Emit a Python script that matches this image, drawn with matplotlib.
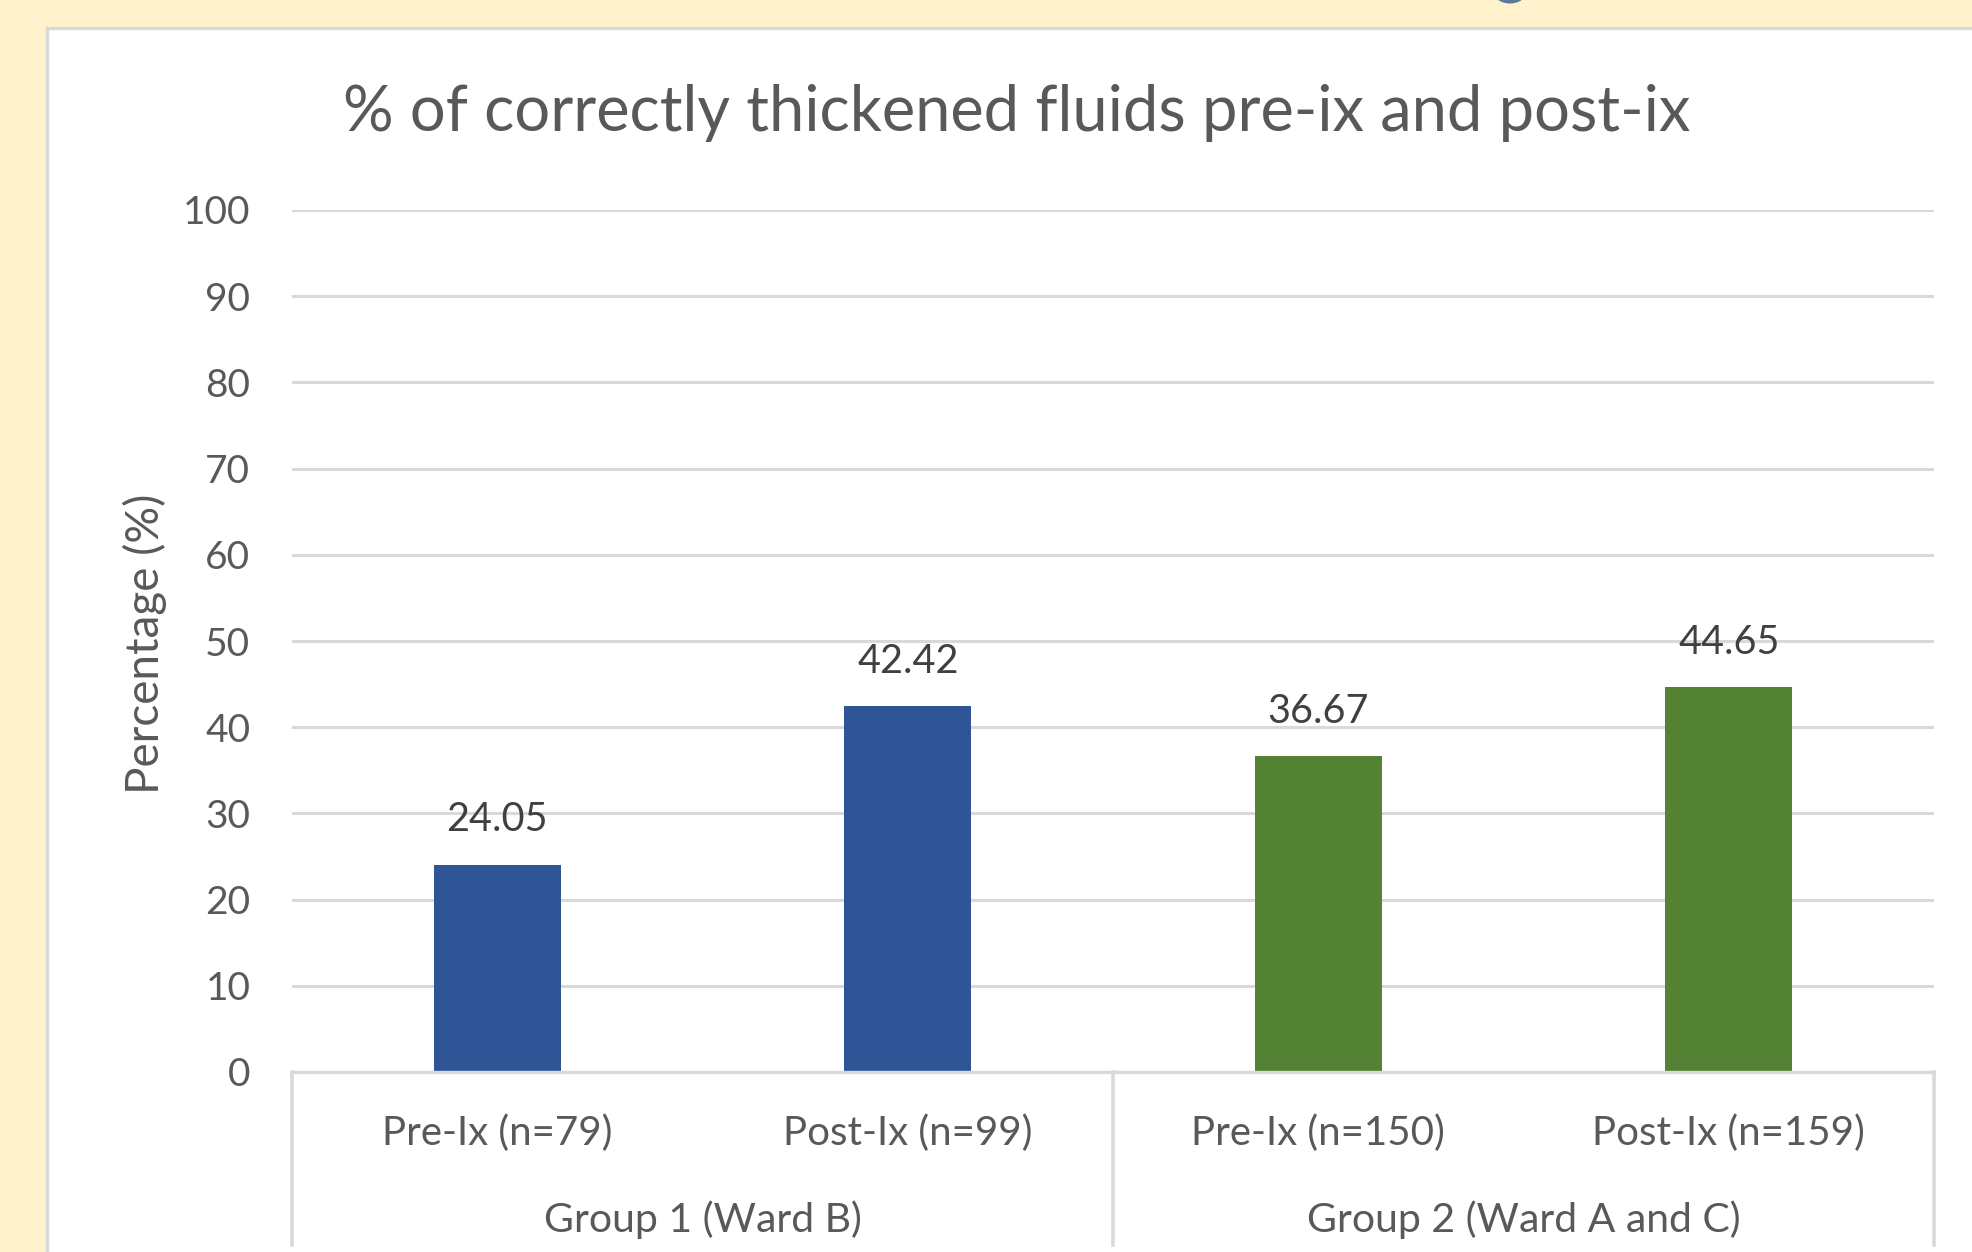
import matplotlib
matplotlib.use("Agg")
import matplotlib.pyplot as plt
from matplotlib.patches import Rectangle, Circle

# ---- data ----
categories = ["Pre-Ix (n=79)", "Post-Ix (n=99)", "Pre-Ix (n=150)", "Post-Ix (n=159)"]
values = [24.05, 42.42, 36.67, 44.65]
groups = ["Group 1 (Ward B)", "Group 2 (Ward A and C)"]
group_sizes = [2, 2]
bar_colors = ["#2F5597", "#2F5597", "#548235", "#548235"]
yticks = [0, 10, 20, 30, 40, 50, 60, 70, 80, 90, 100]
title = "% of correctly thickened fluids pre-ix and post-ix"
ylabel = "Percentage (%)"

plt.rcParams['font.family'] = ['Lato', 'DejaVu Sans']

W, H = 1972, 1252
DPI = 100
fig = plt.figure(figsize=(W / DPI, H / DPI), dpi=DPI)
fig.patch.set_facecolor("#FFF2CC")

def fx(px):
    return px / W

def fy(py):
    return 1 - py / H

# chart area (white panel with light gray border)
fig.patches.append(Rectangle((fx(47), fy(1400)), fx(2200), (1400 - 27.5) / H,
                             transform=fig.transFigure, facecolor="white",
                             edgecolor="#D9D9D9", linewidth=2.5, zorder=-2))
# decorative circle at top edge
fig.patches.append(Circle((fx(1510), fy(-6)), 15 / W, transform=fig.transFigure,
                          facecolor="#5B7A99", edgecolor="none", zorder=-2))

left, right, top, bottom = 292, 1934, 210, 1072
ax = fig.add_axes([fx(left), fy(bottom), fx(right - left), (bottom - top) / H])
ax.set_zorder(1)
ax.set_facecolor("none")

x = list(range(len(categories)))
ax.bar(x, values, width=0.31, color=bar_colors, zorder=3)
ax.set_xlim(-0.5, len(categories) - 0.5)
ax.set_ylim(0, 100)

text_col = "#595959"
ax.set_yticks(yticks)
ax.set_yticklabels([str(t) for t in yticks], fontsize=28, color=text_col)
ax.tick_params(axis='y', length=0, pad=30)
ax.set_xticks([])
ax.grid(axis='y', color="#D9D9D9", linewidth=2.2, zorder=0)
ax.set_axisbelow(True)
for s in ["top", "right", "left"]:
    ax.spines[s].set_visible(False)
ax.spines["bottom"].set_color("#D9D9D9")
ax.spines["bottom"].set_linewidth(2.4)
ax.spines["bottom"].set_zorder(4)

# value labels
for xi, v in zip(x, values):
    ax.annotate(f"{v:.2f}", (xi, v), xytext=(0, 24), textcoords="offset points",
                ha="center", va="baseline", fontsize=28.5, color="#404040")

# category labels and groups
tr = ax.get_xaxis_transform()
ax_h = bottom - top
cat_y = -(1133 - bottom) / ax_h
grp_y = -(1220 - bottom) / ax_h
sep_bottom = -(1245 - bottom) / ax_h
for xi, c in zip(x, categories):
    ax.text(xi, cat_y, c, transform=tr, ha="center", va="center",
            fontsize=29, color=text_col)

start = 0
seps = [-0.5]
for g, n in zip(groups, group_sizes):
    center = start + (n - 1) / 2
    ax.text(center, grp_y, g, transform=tr, ha="center", va="center",
            fontsize=29.5, color=text_col)
    start += n
    seps.append(start - 0.5)
for s in seps:
    ax.plot([s, s], [0, sep_bottom], transform=tr, color="#D9D9D9",
            linewidth=2.6, clip_on=False, zorder=4)

fig.text(fx(145), fy(644), ylabel, rotation=90, ha="center", va="center",
         fontsize=33, color=text_col)

fig.text(fx(1017), fy(131), title, ha="center", va="baseline",
         fontsize=45.5, color=text_col)

fig.savefig("out.png", dpi=DPI, facecolor=fig.get_facecolor())
